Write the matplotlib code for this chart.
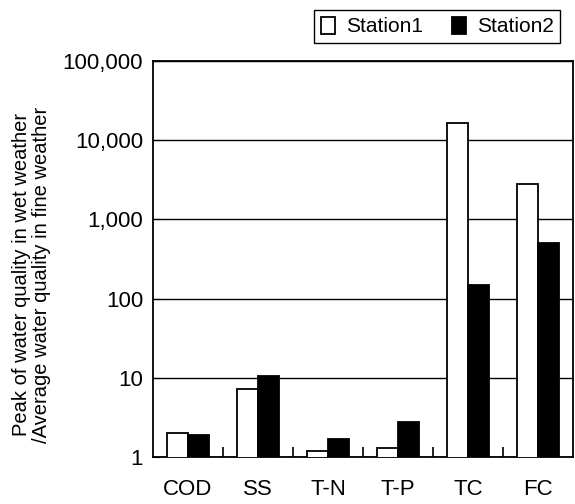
import numpy as np
import matplotlib.pyplot as plt
from matplotlib.ticker import FixedLocator, FuncFormatter

plt.rcParams['font.family'] = ['Liberation Sans', 'DejaVu Sans']

# データ
categories = ['COD', 'SS', 'T-N', 'T-P', 'TC', 'FC']
station1 = [2.0, 7.2, 1.2, 1.3, 16600, 2800]
station2 = [1.9, 10.5, 1.7, 2.8, 148, 500]
yticks = [1, 10, 100, 1000, 10000, 100000]

fig = plt.figure(figsize=(5.75, 5.04), dpi=100)
ax = fig.add_axes([0.266, 0.093, 0.731, 0.786])

x = np.arange(len(categories))
w = 0.3
ax.bar(x - w / 2, station1, w, color='white', edgecolor='black', linewidth=1.3,
       label='Station1', zorder=3)
ax.bar(x + w / 2, station2, w, color='black', edgecolor='black', linewidth=1.3,
       label='Station2', zorder=3)

ax.set_yscale('log')
ax.set_ylim(1, 100000)
ax.set_xlim(-0.5, len(categories) - 0.5)
ax.yaxis.set_major_locator(FixedLocator(yticks))
ax.yaxis.set_minor_locator(FixedLocator([]))
ax.yaxis.set_major_formatter(FuncFormatter(lambda v, p: f'{int(v):,}'))
ax.grid(axis='y', color='black', linewidth=1.0, zorder=0)

ax.set_xticks(x)
ax.set_xticklabels(categories, fontsize=16)
ax.set_xticks(np.arange(0.5, len(categories) - 0.5), minor=True)
ax.tick_params(axis='x', which='major', length=0, pad=16)
ax.tick_params(axis='x', which='minor', direction='in', length=7, width=1.2)
ax.tick_params(axis='y', direction='in', length=5, labelsize=16, pad=7)

for s in ax.spines.values():
    s.set_linewidth(1.3)

ax.set_ylabel('Peak of water quality in wet weather\n/Average water quality in fine weather',
              fontsize=14.5, linespacing=1.1)
ax.yaxis.set_label_coords(-0.242, 0.46)

fig.legend(loc='upper right', bbox_to_anchor=(0.992, 1.0), ncol=2, fontsize=15,
           frameon=True, fancybox=False, edgecolor='black', framealpha=1,
           handlelength=0.7, handleheight=0.9, handletextpad=0.5, columnspacing=1.4,
           borderpad=0.3)

fig.savefig('out.png', dpi=100)
